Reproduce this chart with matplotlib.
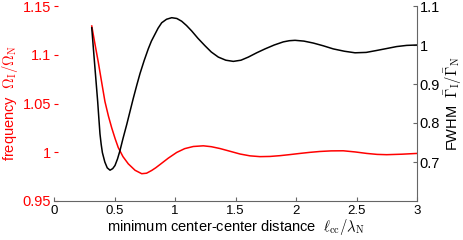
import matplotlib
matplotlib.use("Agg")
from matplotlib import pyplot as plt

plt.rcParams['font.family'] = ['Liberation Sans', 'DejaVu Sans']
plt.rcParams['mathtext.fontset'] = 'cm'

# frequency (left axis, red)
freq_x = [0.312, 0.340, 0.366, 0.395, 0.421, 0.450, 0.477, 0.505, 0.531, 0.570,
          0.614, 0.670, 0.725, 0.765, 0.807, 0.840, 0.876, 0.945, 1.014, 1.080,
          1.151, 1.234, 1.300, 1.372, 1.455, 1.537, 1.620, 1.702, 1.785, 1.868,
          1.950, 2.033, 2.115, 2.198, 2.290, 2.391, 2.490, 2.584, 2.670, 2.750,
          2.875, 3.000]
freq_y = [1.1295, 1.110, 1.0924, 1.071, 1.052, 1.037, 1.025, 1.014, 1.0048, 0.9955,
          0.9881, 0.9815, 0.9780, 0.9785, 0.9813, 0.9840, 0.9874, 0.9940, 0.9998, 1.0037,
          1.0059, 1.0066, 1.0057, 1.0038, 1.0010, 0.9982, 0.9963, 0.9955, 0.9957, 0.9965,
          0.9976, 0.9988, 0.9999, 1.0008, 1.0014, 1.0015, 1.0003, 0.9988, 0.9978, 0.9975,
          0.9980, 0.9988]

# FWHM (right axis, black)
fwhm_x = [0.312, 0.325, 0.339, 0.350, 0.361, 0.370, 0.380, 0.390, 0.400, 0.420,
          0.440, 0.463, 0.485, 0.504, 0.525, 0.545, 0.570, 0.601, 0.630, 0.655,
          0.685, 0.711, 0.745, 0.779, 0.805, 0.835, 0.860, 0.890, 0.930, 0.973,
          1.015, 1.055, 1.095, 1.138, 1.190, 1.248, 1.300, 1.358, 1.420, 1.482,
          1.545, 1.606, 1.675, 1.744, 1.820, 1.895, 1.945, 1.992, 2.065, 2.143,
          2.225, 2.308, 2.400, 2.488, 2.580, 2.667, 2.750, 2.832, 2.915, 3.000]
fwhm_y = [1.044, 0.993, 0.939, 0.897, 0.855, 0.815, 0.772, 0.745, 0.724, 0.700,
          0.685, 0.679, 0.683, 0.691, 0.708, 0.729, 0.760, 0.796, 0.832, 0.863,
          0.898, 0.927, 0.960, 0.990, 1.010, 1.028, 1.043, 1.057, 1.066, 1.070,
          1.068, 1.061, 1.050, 1.036, 1.017, 0.998, 0.982, 0.969, 0.961, 0.958,
          0.961, 0.969, 0.980, 0.990, 1.000, 1.008, 1.011, 1.012, 1.010, 1.005,
          0.998, 0.990, 0.984, 0.980, 0.981, 0.986, 0.991, 0.996, 0.999, 1.000]

x_ticks = [0, 0.5, 1, 1.5, 2, 2.5, 3]
x_labels = ['0', '0.5', '1', '1.5', '2', '2.5', '3']
left_ticks = [0.95, 1, 1.05, 1.1, 1.15]
left_labels = ['0.95', '1', '1.05', '1.1', '1.15']
right_ticks = [0.7, 0.8, 0.9, 1, 1.1]
right_labels = ['0.7', '0.8', '0.9', '1', '1.1']

fig = plt.figure(figsize=(4.63, 2.4), dpi=100)
ax = fig.add_axes([54 / 463, 39 / 240, 363 / 463, 195 / 240])
ax2 = ax.twinx()

ax.plot(freq_x, freq_y, color='#ff0000', lw=1.1)
ax2.plot(fwhm_x, fwhm_y, color='black', lw=1.1)

ax.set_xlim(0, 3)
ax.set_ylim(0.95, 1.15)
ax2.set_ylim(0.6, 1.1)

ax.set_xticks(x_ticks)
ax.set_xticklabels(x_labels, fontsize=9.5)
ax.set_yticks(left_ticks)
ax.set_yticklabels(left_labels, fontsize=10.5, color='#ff0000')
ax2.set_yticks(right_ticks)
ax2.set_yticklabels(right_labels, fontsize=10.5)

for a in (ax, ax2):
    a.spines['top'].set_visible(False)
    a.spines['left'].set_visible(False)
    a.spines['right'].set_visible(False)
ax.spines['bottom'].set_color('#666666')
ax2.spines['bottom'].set_visible(False)
ax2.spines['right'].set_visible(True)
ax2.spines['right'].set_color('#666666')

ax.tick_params(axis='x', direction='in', length=3, color='#666666', pad=3)
ax.tick_params(axis='y', direction='in', length=3, color='#ff0000', pad=2)
ax2.tick_params(axis='y', direction='in', length=3, color='#666666', pad=2)

ax.set_xlabel(r'minimum center-center distance  $\ell_{\mathrm{cc}}/\lambda_{\mathrm{N}}$',
              fontsize=10.5, labelpad=0)
ax.set_ylabel(r'frequency  $\bar{\Omega}_{\mathrm{I}}/\bar{\Omega}_{\mathrm{N}}$',
              fontsize=10.5, color='#ff0000', labelpad=1)
ax2.set_ylabel(r'FWHM  $\bar{\Gamma}_{\mathrm{I}}/\bar{\Gamma}_{\mathrm{N}}$',
               fontsize=10.5, labelpad=2)

fig.savefig('out.png', dpi=100)
